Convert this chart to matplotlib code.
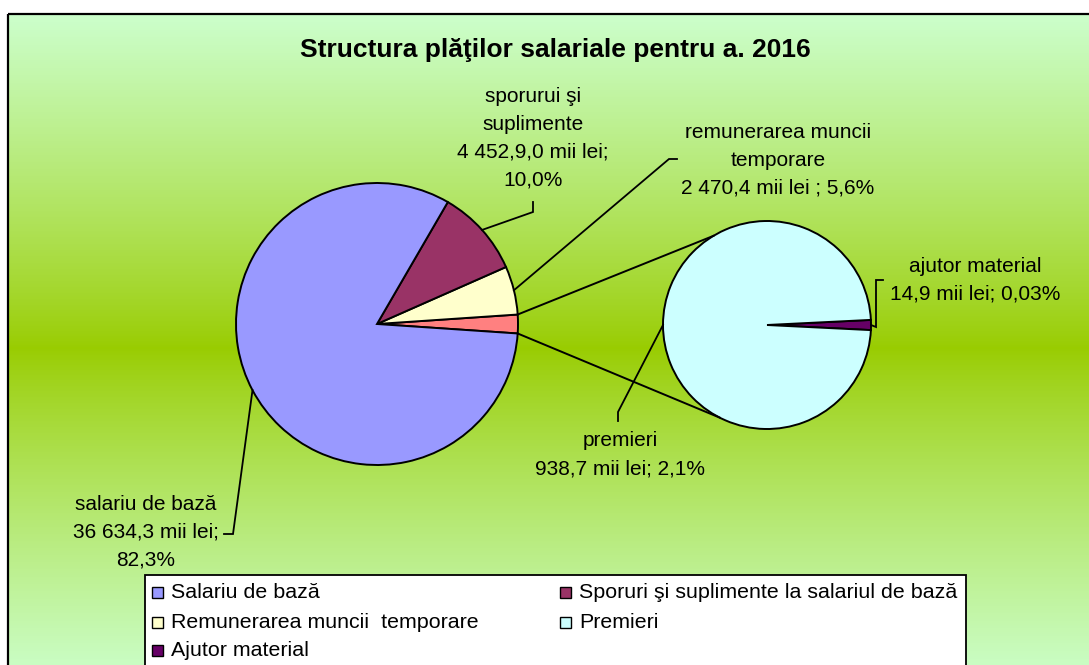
import numpy as np
import matplotlib
matplotlib.use("Agg")
import matplotlib.pyplot as plt
from matplotlib.patches import Rectangle

# ---- data (mii lei) ----
main_labels = ["Salariu de bază", "Sporuri şi suplimente la salariul de bază",
               "Remunerarea muncii  temporare"]
main_values = [36634.3, 4452.9, 2470.4]
sec_labels = ["Premieri", "Ajutor material"]
sec_values = [938.7, 14.9]

main_colors = ["#9999FF", "#993366", "#FFFFCC"]
other_color = "#FF8080"
sec_colors = ["#CCFFFF", "#660066"]

title = "Structura plăţilor salariale pentru a. 2016"
lbl_salariu = "salariu de bază\n36 634,3 mii lei;\n82,3%"
lbl_sporuri = "sporurui şi\nsuplimente\n4 452,9,0 mii lei;\n10,0%"
lbl_remun = "remunerarea muncii\ntemporare\n2 470,4 mii lei ; 5,6%"
lbl_premieri = "premieri\n938,7 mii lei; 2,1%"
lbl_ajutor = "ajutor material\n14,9 mii lei; 0,03%"

legend_labels = ["Salariu de bază", "Sporuri şi suplimente la salariul de bază",
                 "Remunerarea muncii  temporare", "Premieri", "Ajutor material"]
legend_colors = ["#9999FF", "#993366", "#FFFFCC", "#CCFFFF", "#660066"]

# ---- layout ----
W, H = 1089, 665
plt.rcParams['font.family'] = ['Liberation Sans', 'DejaVu Sans']
fig = plt.figure(figsize=(W / 100, H / 100), dpi=100)
ax = fig.add_axes([0, 0, 1, 1])
fig.patch.set_facecolor("white")


def Y(py):
    return H - py


# background gradient
top_c = np.array([204, 255, 204]) / 255
mid_c = np.array([153, 204, 0]) / 255
py = np.arange(14, H + 1)
mid_y = 348.0
t = np.abs(py - mid_y) / (mid_y - 14)
g = np.clip(t, 0, 1) ** 0.85
cols = mid_c[None, :] + (top_c - mid_c)[None, :] * g[:, None]
img = np.repeat(cols[:, None, :], 2, axis=1)
ax.imshow(img, extent=(8, W, 0, Y(14)), aspect='auto', zorder=0, interpolation='bilinear')
ax.plot([8, W], [Y(14), Y(14)], color='black', lw=1.6, zorder=1, solid_capstyle='butt')
ax.plot([8, 8], [0, Y(14)], color='black', lw=1.6, zorder=1, solid_capstyle='butt')

# main pie
other = sum(sec_values)
vals_main = [other] + main_values[::-1]
cols_main = [other_color] + main_colors[::-1]
total = sum(vals_main)
other_deg = other / total * 360
c1 = (377, Y(324)); r1 = 141
wp = dict(edgecolor='black', linewidth=1.4)
w_main, _ = ax.pie(vals_main, colors=cols_main, center=c1, radius=r1,
                   startangle=-other_deg / 2, counterclock=True, wedgeprops=wp)

# secondary pie
vals_sec = sec_values[::-1]
cols_sec = sec_colors[::-1]
aj_deg = sec_values[1] / other * 360
c2 = (767, Y(325)); r2 = 104
w_sec, _ = ax.pie(vals_sec, colors=cols_sec, center=c2, radius=r2,
                  startangle=-aj_deg / 2, counterclock=True, wedgeprops=wp)

ax.set_xlim(0, W)
ax.set_ylim(0, H)
ax.set_aspect('equal')
ax.axis('off')


def pt(center, r, ang):
    a = np.deg2rad(ang)
    return center[0] + r * np.cos(a), center[1] + r * np.sin(a)


def mid(w):
    return (w.theta1 + w.theta2) / 2


# connector lines between pies
p1 = pt(c1, r1, other_deg / 2); q1 = pt(c2, r2, 121)
p2 = pt(c1, r1, -other_deg / 2); q2 = pt(c2, r2, -117)
ax.plot([p1[0], q1[0]], [p1[1], q1[1]], color='black', lw=1.4, zorder=3)
ax.plot([p2[0], q2[0]], [p2[1], q2[1]], color='black', lw=1.4, zorder=3)


# leader lines
def leader(start, pts):
    xs = [start[0]] + [p[0] for p in pts]
    ys = [start[1]] + [Y(p[1]) for p in pts]
    ax.plot(xs, ys, color='black', lw=1.3, zorder=3, solid_joinstyle='miter')


# main wedges order: other, remun, sporuri, salariu
leader(pt(c1, r1, mid(w_main[3])), [(233, 534), (224, 534)])
leader(pt(c1, r1, mid(w_main[2])), [(533, 212), (533, 202)])
leader(pt(c1, r1, mid(w_main[1])), [(669, 159), (677, 159)])
leader(pt(c2, r2, mid(w_sec[1])), [(618, 412), (618, 421)])
leader(pt(c2, r2, mid(w_sec[0])), [(876, 327), (876, 280), (883, 280)])

fs = 15
ls = 1.6
ax.text(555, Y(50), title, ha='center', va='center', fontsize=19, fontweight='bold', zorder=4)
ax.text(146, Y(532), lbl_salariu, ha='center', va='center', fontsize=fs, linespacing=ls, zorder=4)
ax.text(533, Y(138), lbl_sporuri, ha='center', va='center', fontsize=fs, linespacing=ls, zorder=4)
ax.text(778, Y(160), lbl_remun, ha='center', va='center', fontsize=fs, linespacing=ls, zorder=4)
ax.text(620, Y(455), lbl_premieri, ha='center', va='center', fontsize=fs, linespacing=ls, zorder=4)
ax.text(975, Y(280), lbl_ajutor, ha='center', va='center', fontsize=fs, linespacing=ls, zorder=4)

# legend (manual, row-major)
ax.add_patch(Rectangle((145, Y(672)), 966 - 145, 672 - 575, facecolor='white',
                       edgecolor='black', lw=1.3, zorder=5))
col_x = [152, 560]
row_y = [592, 622, 650]
for i, (lab, col) in enumerate(zip(legend_labels, legend_colors)):
    cx = col_x[i % 2]
    cy = row_y[i // 2]
    ax.add_patch(Rectangle((cx, Y(cy) - 5.5), 11, 11, facecolor=col, edgecolor='black',
                           lw=1.0, zorder=6))
    ax.text(cx + 19, Y(cy), lab, ha='left', va='center', fontsize=15.4, zorder=6)

fig.savefig("out.png", dpi=100)
